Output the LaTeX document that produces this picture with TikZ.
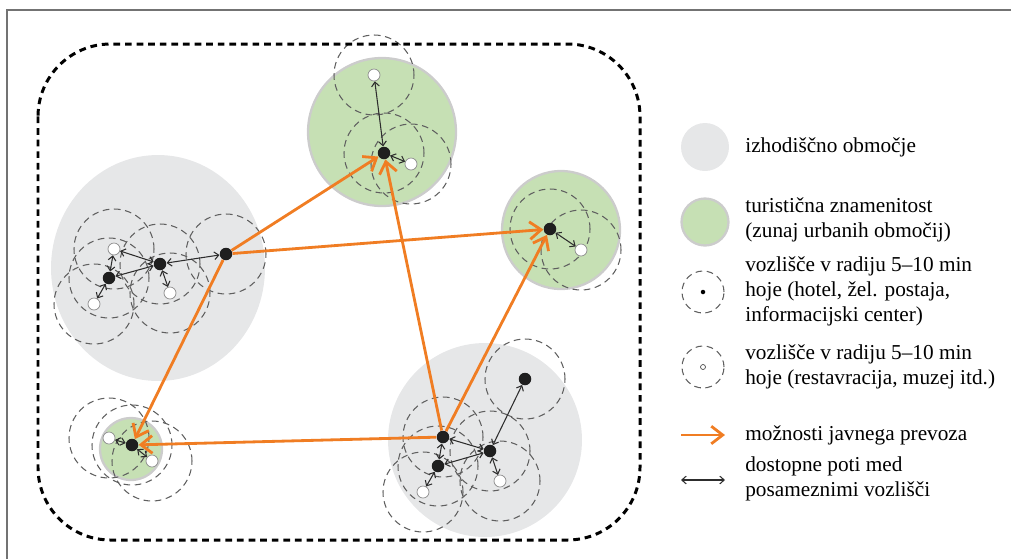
\documentclass[tikz,border=0pt]{standalone}
\usepackage{fontspec}
\setmainfont{Liberation Serif}
\usetikzlibrary{arrows.meta,backgrounds}

\definecolor{areagray}{RGB}{230,231,232}
\definecolor{sightgreen}{RGB}{198,224,180}
\definecolor{rimgray}{RGB}{204,204,204}
\definecolor{busorange}{RGB}{240,125,35}
\definecolor{pathgray}{RGB}{45,45,45}
\definecolor{rangegray}{RGB}{95,95,95}

\tikzset{
	hub/.style={circle,fill=black!88,inner sep=0pt,minimum size=0.25cm},
	spot/.style={circle,fill=white,draw=black!45,line width=0.4pt,inner sep=0pt,minimum size=0.24cm},
	reach/.style={draw=rangegray,line width=0.6pt,dash pattern=on 3.8pt off 2.6pt},
	bus/.style={draw=busorange,line width=1.6pt,-{Straight Barb[length=6.5pt,width=10pt]}},
	walk/.style={draw=pathgray,line width=0.6pt,{Straight Barb[length=2.5pt,width=4.4pt]}-{Straight Barb[length=2.5pt,width=4.4pt]}},
	legtext/.style={anchor=west,inner sep=0pt,align=left,font=\fontsize{12.1}{14.2}\selectfont}
}

\begin{document}
\begin{tikzpicture}[x=0.02cm,y=-0.02cm]
	\useasboundingbox (0,0) rectangle (1011,559);
	\draw[black!55,line width=1.4pt] (7,559) -- (7,10) -- (1011,10);
	\draw[line width=1.7pt,dash pattern=on 3.8pt off 2.8pt,rounded corners=1.45cm] (38,44) rectangle (640,540);

	% nodes
	\node[spot] (la) at (114,249) {};
	\node[hub] (lb) at (109,278) {};
	\node[spot] (lc) at (94,304) {};
	\node[hub] (ld) at (160,264) {};
	\node[spot] (le) at (170,293) {};
	\node[hub] (lf) at (226,254) {};

	\node[hub] (ta) at (384,153) {};
	\node[spot] (tb) at (374,75) {};
	\node[spot] (tc) at (411,164) {};

	\node[hub] (ra) at (550,229) {};
	\node[spot] (rb) at (581,250) {};

	\node[hub] (sa) at (132,445) {};
	\node[spot] (sb) at (109,438) {};
	\node[spot] (sc) at (152,461) {};

	\node[hub] (ba) at (443,437) {};
	\node[hub] (bb) at (438,466) {};
	\node[hub] (bc) at (490,451) {};
	\node[hub] (bd) at (525,379) {};
	\node[spot] (be) at (423,492) {};
	\node[spot] (bf) at (500,481) {};

	\begin{scope}[on background layer]
		\fill[areagray] (158,268) ellipse[x radius=2.14cm,y radius=2.26cm];
		\fill[areagray] (485,440) circle[radius=1.94cm];
		\filldraw[fill=sightgreen,draw=rimgray,line width=1.3pt] (382,132) circle[radius=1.48cm];
		\filldraw[fill=sightgreen,draw=rimgray,line width=1.3pt] (561,230) circle[radius=1.18cm];
		\filldraw[fill=sightgreen,draw=rimgray,line width=1.3pt] (131,449) circle[radius=0.62cm];
		\foreach \n in {la,lb,lc,ld,le,lf,ta,tb,tc,ra,rb,sa,sb,sc,ba,bb,bc,bd,be,bf}
			\draw[reach] (\n) circle[radius=0.8cm];
	\end{scope}

	% public transport
	\draw[bus] (lf) -- (ta);
	\draw[bus] (lf) -- (ra);
	\draw[bus] (lf) -- (sa);
	\draw[bus] (ba) -- (sa);
	\draw[bus] (ba) -- (ta);
	\draw[bus] (ba) -- (ra);

	% walking paths
	\draw[walk] (la) -- (ld);
	\draw[walk] (lb) -- (ld);
	\draw[walk] (la) -- (lb);
	\draw[walk] (lb) -- (lc);
	\draw[walk] (ld) -- (le);
	\draw[walk] (ld) -- (lf);
	\draw[walk] (tb) -- (ta);
	\draw[walk] (ta) -- (tc);
	\draw[walk] (ra) -- (rb);
	\draw[walk] (sb) -- (sa);
	\draw[walk] (sa) -- (sc);
	\draw[walk] (ba) -- (bc);
	\draw[walk] (ba) -- (bb);
	\draw[walk] (bb) -- (bc);
	\draw[walk] (bb) -- (be);
	\draw[walk] (bc) -- (bf);
	\draw[walk] (bc) -- (bd);

	% legend
	\fill[areagray] (705,147) circle[radius=0.48cm];
	\filldraw[fill=sightgreen,draw=rimgray,line width=1.3pt] (705,222) circle[radius=0.47cm];
	\draw[reach] (703,292) circle[radius=0.42cm];
	\fill (703,292) circle[radius=0.045cm];
	\draw[reach] (703,367) circle[radius=0.42cm];
	\draw[black!70,line width=0.4pt] (703,367) circle[radius=0.05cm];
	\coordinate (k1) at (681,435);
	\coordinate (k2) at (725,435);
	\coordinate (k3) at (681,480);
	\coordinate (k4) at (725,480);
	\draw[bus] (k1) -- (k2);
	\draw[walk] (k3) -- (k4);

	\node[legtext] (t1) at (745,147) {izhodiščno območje};
	\node[legtext] (t2) at (745,220) {turistična znamenitost\\(zunaj urbanih območij)};
	\node[legtext] (t3) at (745,291) {vozlišče v radiju 5–10 min\\hoje (hotel, žel. postaja,\\informacijski center)};
	\node[legtext] (t4) at (745,367) {vozlišče v radiju 5–10 min\\hoje (restavracija, muzej itd.)};
	\node[legtext] (t5) at (745,435) {možnosti javnega prevoza};
	\node[legtext] (t6) at (745,479) {dostopne poti med\\posameznimi vozlišči};
\end{tikzpicture}
\end{document}
